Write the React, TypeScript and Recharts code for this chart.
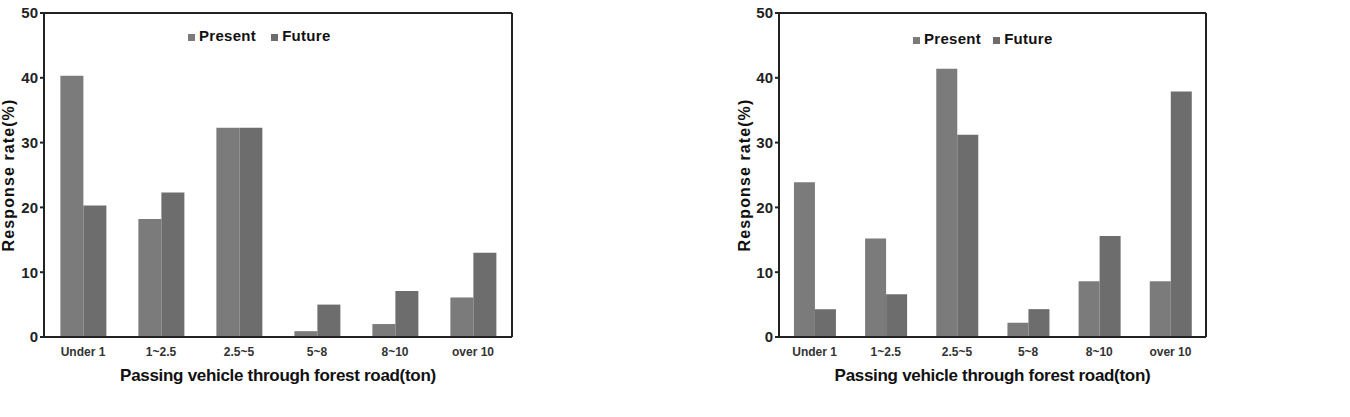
import React from 'react';
import { BarChart, Bar, XAxis, YAxis, Legend } from 'recharts';

const categories = ['Under 1', '1~2.5', '2.5~5', '5~8', '8~10', 'over 10'];
const presentLeft = [40.3, 18.2, 32.3, 0.9, 2.0, 6.1];
const futureLeft = [20.3, 22.3, 32.3, 5.0, 7.1, 13.0];
const presentRight = [23.9, 15.2, 41.4, 2.2, 8.6, 8.6];
const futureRight = [4.3, 6.6, 31.2, 4.3, 15.6, 37.9];
const yTicks = [0, 10, 20, 30, 40, 50];
const seriesOrder = ['present', 'future'];

const FONT = '"Liberation Sans", Arial, sans-serif';
const PRESENT = '#7b7b7b';
const FUTURE = '#6d6d6d';

const buildRows = (present: number[], future: number[]) =>
  categories.map((name, i) => ({ name, present: present[i], future: future[i] }));

interface PanelProps {
  present: number[];
  future: number[];
  left: number;
  width: number;
  marginLeft: number;
  marginRight: number;
  yLabelX: number;
  legendLeft: number;
  legendTop: number;
  legendGap: number;
}

const Panel: React.FC<PanelProps> = ({ present, future, left, width, marginLeft, marginRight, yLabelX, legendLeft, legendTop, legendGap }) => {
  const data = buildRows(present, future);
  return (
    <div style={{ position: 'absolute', left, top: 0 }}>
      <BarChart
        width={width}
        height={417}
        data={data}
        margin={{ top: 13, right: marginRight, bottom: 36, left: marginLeft }}
        barGap={0}
        barCategoryGap="21%"
      >
        <XAxis
          dataKey="name"
          height={44}
          axisLine={{ stroke: '#222', strokeWidth: 2 }}
          tickLine={false}
          tick={{ fill: '#333', fontSize: 12, fontWeight: 700, fontFamily: FONT }}
          tickMargin={4}
          interval={0}
          label={({ viewBox }: any) => (
            <text
              x={viewBox.x + viewBox.width / 2}
              y={381}
              textAnchor="middle"
              fill="#111"
              fontSize={17}
              fontWeight={700}
              fontFamily={FONT}
              letterSpacing={-0.3}
            >
              Passing vehicle through forest road(ton)
            </text>
          )}
        />
        <XAxis xAxisId="top" orientation="top" dataKey="name" mirror height={20} tick={false} tickLine={false} axisLine={{ stroke: '#222', strokeWidth: 2 }} />
        <YAxis
          domain={[0, 50]}
          ticks={yTicks}
          width={30}
          axisLine={{ stroke: '#222', strokeWidth: 2 }}
          tickLine={{ stroke: '#222', strokeWidth: 2 }}
          tickSize={4}
          tick={{ fill: '#222', fontSize: 15, fontWeight: 700, fontFamily: FONT }}
          label={({ viewBox }: any) => (
            <text
              x={yLabelX}
              y={viewBox.y + viewBox.height / 2}
              transform={`rotate(-90 ${yLabelX} ${viewBox.y + viewBox.height / 2})`}
              textAnchor="middle"
              dominantBaseline="central"
              fill="#111"
              fontSize={16}
              fontWeight={700}
              fontFamily={FONT}
              letterSpacing={1.1}
            >
              Response rate(%)
            </text>
          )}
        />
        <YAxis yAxisId="right" orientation="right" mirror type="number" domain={[0, 50]} width={20} tick={false} tickLine={false} axisLine={{ stroke: '#222', strokeWidth: 2 }} />
        <Legend
          verticalAlign="middle"
          align="center"
          layout="horizontal"
          iconType="square"
          iconSize={7}
          itemSorter={(item: any) => seriesOrder.indexOf(item.dataKey)}
          wrapperStyle={{ left: legendLeft, top: legendTop, width: 'auto', fontFamily: FONT, fontSize: 15, fontWeight: 700 }}
          formatter={(value: string) => (
            <span style={{ color: '#111', letterSpacing: 0.3, paddingRight: legendGap }}>{value}</span>
          )}
        />
        <Bar dataKey="present" name="Present" fill={PRESENT} isAnimationActive={false} />
        <Bar dataKey="future" name="Future" fill={FUTURE} isAnimationActive={false} />
      </BarChart>
    </div>
  );
};

export default function App() {
  return (
    <div style={{ position: 'fixed', left: 0, top: 0, width: 1350, height: 417, background: '#fff' }}>
      <Panel
        present={presentLeft}
        future={futureLeft}
        left={0}
        width={560}
        marginLeft={14}
        marginRight={48}
        yLabelX={8}
        legendLeft={188}
        legendTop={27}
        legendGap={5}
      />
      <Panel
        present={presentRight}
        future={futureRight}
        left={700}
        width={560}
        marginLeft={49}
        marginRight={54}
        yLabelX={44}
        legendLeft={213}
        legendTop={30}
        legendGap={2}
      />
    </div>
  );
}
